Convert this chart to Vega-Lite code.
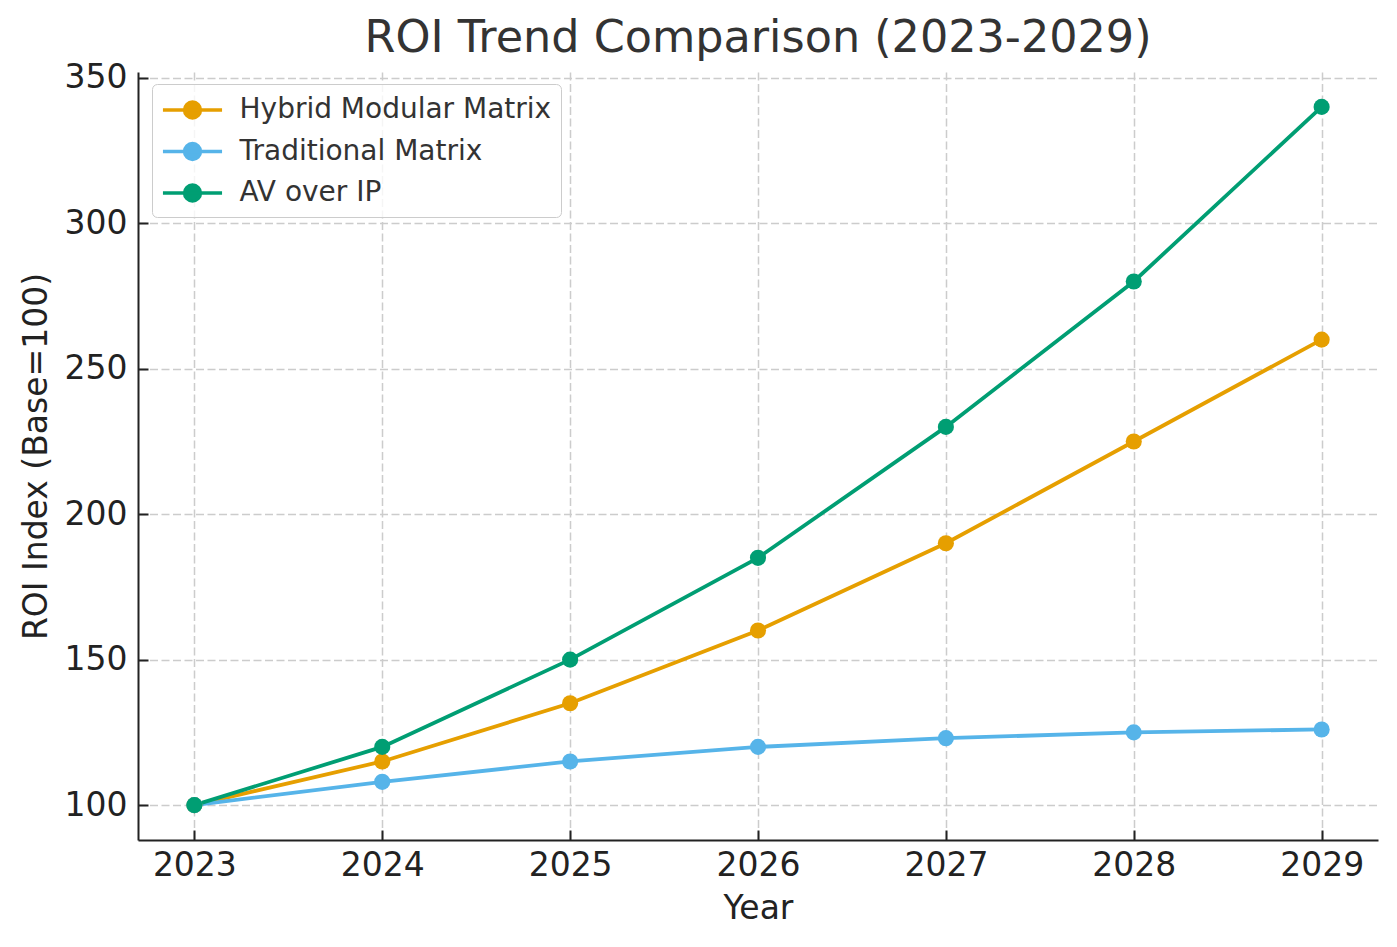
{
  "$schema": "https://vega.github.io/schema/vega-lite/v6.json",
  "width": 1240,
  "height": 768,
  "autosize": {"type": "none"},
  "padding": {"left": 138, "top": 72, "right": 19, "bottom": 107},
  "background": "white",
  "title": {
    "text": "ROI Trend Comparison (2023-2029)",
    "font": "DejaVu Sans",
    "fontSize": 44.5,
    "fontWeight": "normal",
    "color": "#333333",
    "anchor": "middle",
    "frame": "group",
    "offset": 0
  },
  "config": {
    "view": {"stroke": null},
    "font": "DejaVu Sans",
    "axis": {
      "labelFont": "DejaVu Sans",
      "titleFont": "DejaVu Sans",
      "labelFontSize": 33,
      "titleFontSize": 33,
      "titleFontWeight": "normal",
      "labelColor": "#222222",
      "titleColor": "#222222",
      "domainColor": "#222222",
      "domainWidth": 2,
      "tickColor": "#222222",
      "tickWidth": 2,
      "tickSize": -10,
      "grid": true,
      "gridColor": "#cccccc",
      "gridWidth": 1.5,
      "gridDash": [8, 3.5],
      "labelFlush": false,
      "labelOverlap": false
    }
  },
  "data": {
    "values": [
      {"Year": 2023, "Series": "Hybrid Modular Matrix", "ROI": 100},
      {"Year": 2024, "Series": "Hybrid Modular Matrix", "ROI": 115},
      {"Year": 2025, "Series": "Hybrid Modular Matrix", "ROI": 135},
      {"Year": 2026, "Series": "Hybrid Modular Matrix", "ROI": 160},
      {"Year": 2027, "Series": "Hybrid Modular Matrix", "ROI": 190},
      {"Year": 2028, "Series": "Hybrid Modular Matrix", "ROI": 225},
      {"Year": 2029, "Series": "Hybrid Modular Matrix", "ROI": 260},
      {"Year": 2023, "Series": "Traditional Matrix", "ROI": 100},
      {"Year": 2024, "Series": "Traditional Matrix", "ROI": 108},
      {"Year": 2025, "Series": "Traditional Matrix", "ROI": 115},
      {"Year": 2026, "Series": "Traditional Matrix", "ROI": 120},
      {"Year": 2027, "Series": "Traditional Matrix", "ROI": 123},
      {"Year": 2028, "Series": "Traditional Matrix", "ROI": 125},
      {"Year": 2029, "Series": "Traditional Matrix", "ROI": 126},
      {"Year": 2023, "Series": "AV over IP", "ROI": 100},
      {"Year": 2024, "Series": "AV over IP", "ROI": 120},
      {"Year": 2025, "Series": "AV over IP", "ROI": 150},
      {"Year": 2026, "Series": "AV over IP", "ROI": 185},
      {"Year": 2027, "Series": "AV over IP", "ROI": 230},
      {"Year": 2028, "Series": "AV over IP", "ROI": 280},
      {"Year": 2029, "Series": "AV over IP", "ROI": 340}
    ]
  },
  "encoding": {
    "x": {
      "field": "Year",
      "type": "quantitative",
      "scale": {"domain": [2022.7, 2029.3], "nice": false, "zero": false},
      "axis": {
        "title": "Year",
        "values": [2023, 2024, 2025, 2026, 2027, 2028, 2029],
        "format": "d",
        "labelPadding": 19,
        "titlePadding": 10
      }
    },
    "y": {
      "field": "ROI",
      "type": "quantitative",
      "scale": {"domain": [88, 352], "nice": false, "zero": false},
      "axis": {
        "title": "ROI Index (Base=100)",
        "values": [100, 150, 200, 250, 300, 350],
        "labelPadding": 21,
        "titlePadding": 11
      }
    },
    "color": {
      "field": "Series",
      "type": "nominal",
      "sort": ["Hybrid Modular Matrix", "Traditional Matrix", "AV over IP"],
      "scale": {
        "domain": ["Hybrid Modular Matrix", "Traditional Matrix", "AV over IP"],
        "range": ["#E69F00", "#56B4E9", "#009E73"]
      },
      "legend": {
        "title": null,
        "orient": "none",
        "legendX": 14,
        "legendY": 12,
        "labelFont": "DejaVu Sans",
        "labelFontSize": 28,
        "labelColor": "#333333",
        "labelLimit": 1000,
        "labelOffset": 30,
        "symbolType": "M-1.97,0L1.97,0M0.53,0A0.53,0.53,0,1,1,-0.53,0A0.53,0.53,0,1,1,0.53,0Z",
        "symbolSize": 900,
        "symbolOffset": 14.5,
        "symbolStrokeWidth": 3.5,
        "symbolOpacity": 1,
        "rowPadding": 9.5,
        "padding": 9,
        "fillColor": "rgba(255,255,255,0.8)",
        "strokeColor": "#cccccc",
        "cornerRadius": 5
      }
    }
  },
  "layer": [
    {
      "mark": {"type": "line", "strokeWidth": 3.8}
    },
    {
      "mark": {"type": "point", "shape": "circle", "filled": true, "size": 260, "opacity": 1}
    }
  ]
}
